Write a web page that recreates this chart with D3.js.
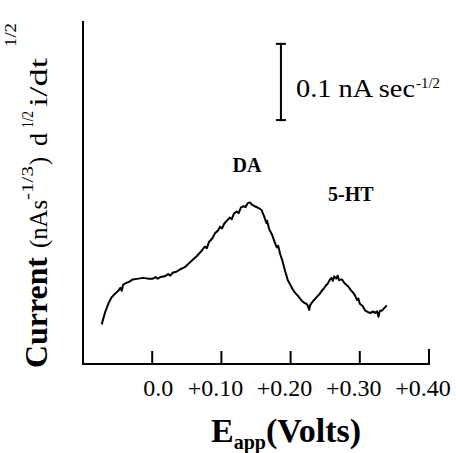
<!DOCTYPE html>
<html>
<head>
<meta charset="utf-8">
<script src="https://cdn.jsdelivr.net/npm/d3@7"></script>
<style>
  html, body { margin: 0; padding: 0; background: #fff; }
  svg { display: block; font-family: "Liberation Serif", "Times New Roman", serif; }
</style>
</head>
<body>
<div id="chart"></div>
<script>
// data: potential (V) and semi-derivative current (nA s^-1/2)
const potential = [
  -0.073, -0.068, -0.063, -0.059, -0.054, -0.049, -0.046, -0.044, -0.042, -0.038,
  -0.033, -0.028, -0.020, -0.013, -0.006, 0.001, 0.005, 0.008, 0.012, 0.018,
  0.023, 0.026, 0.030, 0.035, 0.040, 0.047, 0.053, 0.059, 0.065, 0.071,
  0.076, 0.079, 0.082, 0.087, 0.091, 0.095, 0.098, 0.101, 0.104, 0.108,
  0.112, 0.115, 0.118, 0.122, 0.125, 0.128, 0.132, 0.135, 0.138, 0.141,
  0.144, 0.148, 0.153, 0.158, 0.162, 0.165, 0.166, 0.169, 0.173, 0.177,
  0.180, 0.182, 0.185, 0.188, 0.192, 0.196, 0.199, 0.203, 0.206, 0.211,
  0.216, 0.220, 0.223, 0.225, 0.227, 0.228, 0.232, 0.237, 0.242, 0.245,
  0.248, 0.251, 0.254, 0.257, 0.259, 0.261, 0.263, 0.266, 0.268, 0.270,
  0.274, 0.278, 0.283, 0.287, 0.290, 0.293, 0.296, 0.298, 0.300, 0.304,
  0.308, 0.312, 0.316, 0.319, 0.322, 0.325, 0.327, 0.329, 0.332, 0.335,
  0.339
];
const current = [
  0.052, 0.068, 0.080, 0.087, 0.092, 0.096, 0.100, 0.096, 0.104, 0.106,
  0.108, 0.111, 0.112, 0.113, 0.112, 0.112, 0.114, 0.112, 0.114, 0.115,
  0.118, 0.116, 0.120, 0.121, 0.124, 0.127, 0.132, 0.137, 0.142, 0.148,
  0.154, 0.152, 0.160, 0.165, 0.172, 0.175, 0.180, 0.178, 0.184, 0.188,
  0.192, 0.190, 0.197, 0.200, 0.198, 0.205, 0.207, 0.206, 0.211, 0.212,
  0.209, 0.207, 0.205, 0.202, 0.193, 0.185, 0.188, 0.177, 0.170, 0.160,
  0.153, 0.155, 0.144, 0.136, 0.122, 0.110, 0.105, 0.098, 0.094, 0.089,
  0.083, 0.080, 0.079, 0.076, 0.071, 0.077, 0.082, 0.087, 0.092, 0.096,
  0.099, 0.103, 0.106, 0.111, 0.113, 0.109, 0.115, 0.112, 0.116, 0.110,
  0.111, 0.106, 0.102, 0.097, 0.094, 0.090, 0.084, 0.086, 0.079, 0.076,
  0.070, 0.068, 0.067, 0.069, 0.067, 0.069, 0.062, 0.070, 0.070, 0.073,
  0.077
];
const xTicks = [0, 0.1, 0.2, 0.3, 0.4];
const xTickLabels = ["0.0", "+0.10", "+0.20", "+0.30", "+0.40"];
const scaleBar = [0.32, 0.42]; // 0.1 nA sec^-1/2

const width = 456, height = 453;
const margin = { top: 21, right: 27, bottom: 89, left: 83 };

const svg = d3.select("#chart").append("svg")
  .attr("width", width)
  .attr("height", height);

const x = d3.scaleLinear().domain([-0.1, 0.4]).range([margin.left, width - margin.right]);
const y = d3.scaleLinear().domain([0, 0.45]).range([height - margin.bottom, margin.top]);

// axes
const x0 = x.range()[0], y0 = y.range()[0];
svg.append("line")
  .attr("x1", x0).attr("x2", x0)
  .attr("y1", y0).attr("y2", margin.top)
  .attr("stroke", "#000").attr("stroke-width", 2);
svg.append("line")
  .attr("x1", x0 - 1).attr("x2", x(0.4) + 1)
  .attr("y1", y0).attr("y2", y0)
  .attr("stroke", "#000").attr("stroke-width", 2);

svg.selectAll(".tick")
  .data(xTicks)
  .enter()
  .append("line")
  .attr("class", "tick")
  .attr("x1", (d) => x(d)).attr("x2", (d) => x(d))
  .attr("y1", y0)
  .attr("y2", (d, i) => y0 - (i === xTicks.length - 1 ? 15 : 13))
  .attr("stroke", "#000").attr("stroke-width", 2);

svg.selectAll(".tick-label")
  .data(xTicks)
  .enter()
  .append("text")
  .attr("class", "tick-label")
  .attr("x", (d, i) => x(d) + (i === 0 ? 6 : -6))
  .attr("y", y0 + 32)
  .attr("text-anchor", "middle")
  .attr("font-size", 24)
  .text((d, i) => xTickLabels[i]);

// x title
const xt = svg.append("text")
  .attr("x", 211).attr("y", 442)
  .attr("font-size", 34)
  .attr("font-weight", "bold");
xt.append("tspan").text("E");
xt.append("tspan").attr("font-size", 20).attr("dy", 7).text("app");
xt.append("tspan").attr("dy", -7).text("(Volts)");

// y title, laid out piece by piece along the rotated baseline
const yTitle = [
  { t: "Current", u: 0, v: 0, size: 31, len: 111, bold: true },
  { t: "(nAs", u: 120, v: 0, size: 25, len: 48 },
  { t: "-1/3", u: 168, v: -14, size: 17, len: 34 },
  { t: ")", u: 203, v: 0, size: 25, len: 8 },
  { t: "d", u: 222, v: 0, size: 25, len: 13 },
  { t: "1/2", u: 240, v: -14, size: 17, len: 17 },
  { t: "i/dt", u: 261, v: 0, size: 25, len: 49 },
  { t: "1/2", u: 321, v: -31, size: 16, len: 24 },
];
const yt = svg.append("g").attr("transform", `translate(47, 368) rotate(-90)`);
yt.selectAll("text")
  .data(yTitle)
  .enter()
  .append("text")
  .attr("x", (d) => d.u)
  .attr("y", (d) => d.v)
  .attr("font-size", (d) => d.size)
  .attr("font-weight", (d) => (d.bold ? "bold" : "normal"))
  .attr("textLength", (d) => d.len)
  .attr("lengthAdjust", "spacingAndGlyphs")
  .text((d) => d.t);

// trace
const line = d3.line()
  .x((d, i) => x(potential[i]))
  .y((d, i) => y(current[i]));

svg.append("path")
  .datum(current)
  .attr("d", line)
  .attr("fill", "none")
  .attr("stroke", "#000")
  .attr("stroke-width", 2)
  .attr("stroke-linejoin", "round");

// scale bar
const sbx = x(0.186);
svg.append("line")
  .attr("x1", sbx).attr("x2", sbx)
  .attr("y1", y(scaleBar[0])).attr("y2", y(scaleBar[1]))
  .attr("stroke", "#000").attr("stroke-width", 2);
svg.selectAll(".cap")
  .data(scaleBar)
  .enter()
  .append("line")
  .attr("x1", sbx - 5).attr("x2", sbx + 5)
  .attr("y1", (d) => y(d)).attr("y2", (d) => y(d))
  .attr("stroke", "#000").attr("stroke-width", 2);

svg.append("text")
  .attr("x", 296).attr("y", 97)
  .attr("font-size", 25)
  .attr("textLength", 119)
  .attr("lengthAdjust", "spacingAndGlyphs")
  .text("0.1 nA sec");
svg.append("text")
  .attr("x", 416).attr("y", 88)
  .attr("font-size", 14)
  .attr("textLength", 24)
  .attr("lengthAdjust", "spacingAndGlyphs")
  .text("-1/2");

// peak labels
svg.append("text")
  .attr("x", x(0.137)).attr("y", 172)
  .attr("text-anchor", "middle")
  .attr("font-size", 20).attr("font-weight", "bold")
  .text("DA");
svg.append("text")
  .attr("x", x(0.287)).attr("y", 201)
  .attr("text-anchor", "middle")
  .attr("font-size", 20).attr("font-weight", "bold")
  .text("5-HT");
</script>
</body>
</html>
